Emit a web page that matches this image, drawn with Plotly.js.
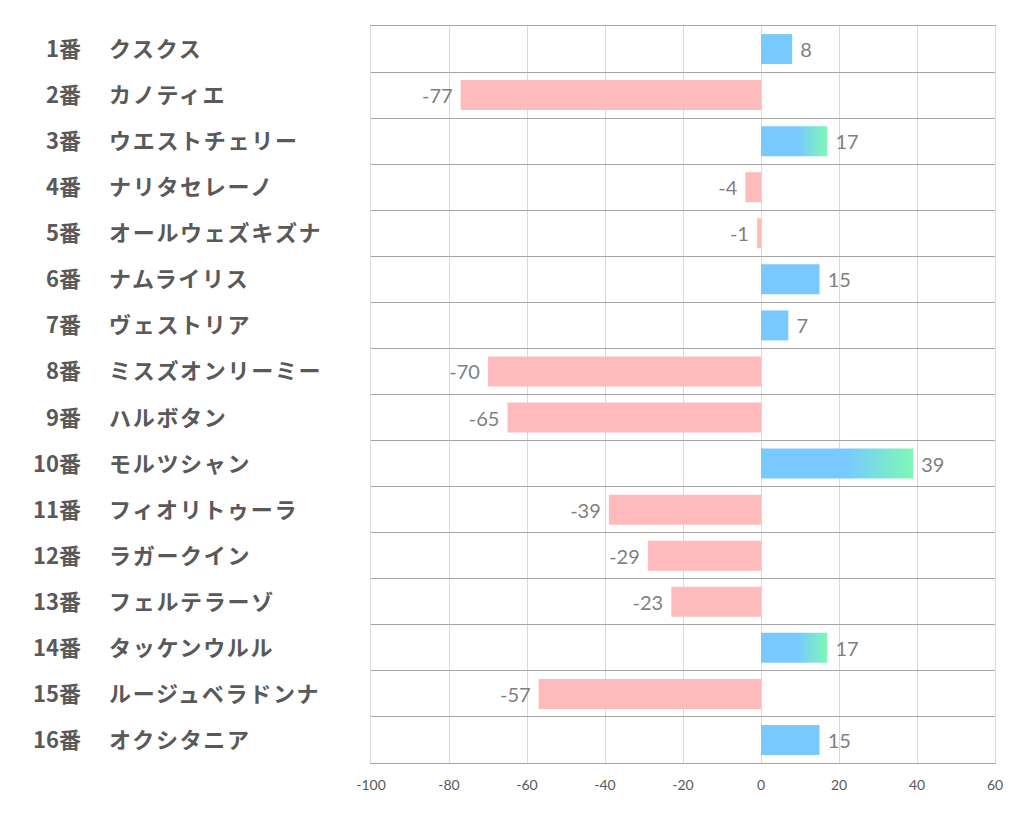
<!DOCTYPE html>
<html>
<head>
<meta charset="utf-8">
<script src="https://cdn.plot.ly/plotly-3.0.1.min.js"></script>
<style>
html,body{margin:0;padding:0;background:#fff;}
#chart{width:1022px;height:834px;}
</style>
</head>
<body>
<div id="chart"></div>
<script>
// ---- data ----
const numbers = ["1番","2番","3番","4番","5番","6番","7番","8番","9番","10番","11番","12番","13番","14番","15番","16番"];
const names = ["クスクス","カノティエ","ウエストチェリー","ナリタセレーノ","オールウェズキズナ","ナムライリス","ヴェストリア","ミスズオンリーミー","ハルボタン","モルツシャン","フィオリトゥーラ","ラガークイン","フェルテラーゾ","タッケンウルル","ルージュベラドンナ","オクシタニア"];
const values = [8,-77,17,-4,-1,15,7,-70,-65,39,-39,-29,-23,17,-57,15];
const highlighted = [false,false,true,false,false,false,false,false,false,true,false,false,false,true,false,false];
const xTicks = [-100,-80,-60,-40,-20,0,20,40,60];

// ---- styles ----
const POS = "#77C9FF", NEG = "#FFBABB", GREEN = "#7EF8B6";
const rows = numbers.map((_, i) => i + 1);
const colors = values.map(v => v >= 0 ? POS : NEG);
const NB = "\u00a0";

const trace = {
  type: "bar",
  orientation: "h",
  x: values,
  y: rows,
  width: 0.65,
  marker: {color: colors, line: {width: 0}},
  text: values.map(v => v >= 0 ? NB + v : v + NB),
  textposition: "outside",
  cliponaxis: false,
  constraintext: "none",
  textfont: {family: "Lato, 'Open Sans', sans-serif", size: 20, color: "#7F7F7F"},
  hoverinfo: "none"
};

const numFont = {family: "'Noto Sans CJK JP', sans-serif", size: 22, color: "#595959", weight: 700};
const nameFont = {family: "'Noto Sans CJK JP', sans-serif", size: 22, color: "#595959", weight: 700};
const annotations = [];
rows.forEach((r, i) => {
  annotations.push({xref: "paper", yref: "y", x: (83 - 371) / 624, y: r, yshift: 2, text: numbers[i],
    showarrow: false, xanchor: "right", yanchor: "middle", font: numFont});
  annotations.push({xref: "paper", yref: "y", x: (107 - 371) / 624, y: r, yshift: 2,
    text: '<span style="letter-spacing:1.7px">' + names[i] + '</span>',
    showarrow: false, xanchor: "left", yanchor: "middle", font: nameFont});
});

const layout = {
  width: 1022, height: 834,
  margin: {l: 371, r: 27, t: 26, b: 71},
  paper_bgcolor: "#fff", plot_bgcolor: "#fff",
  showlegend: false,
  bargap: 0.35,
  xaxis: {
    range: [-100, 60], tickvals: xTicks, ticktext: xTicks.map(String),
    showgrid: true, gridcolor: "#D9D9D9", gridwidth: 1, zeroline: false,
    showline: true, mirror: true, linecolor: "#A6A6A6", linewidth: 1,
    ticks: "", ticklabelstandoff: 9,
    tickfont: {family: "Lato, 'Open Sans', sans-serif", size: 14, color: "#595959"},
    fixedrange: true
  },
  yaxis: {
    range: [16.5, 0.5], tickmode: "linear", tick0: 0.5, dtick: 1,
    showticklabels: false, ticks: "",
    showgrid: true, gridcolor: "#A6A6A6", gridwidth: 1, zeroline: false,
    showline: true, mirror: true, linecolor: "#D9D9D9", linewidth: 1,
    fixedrange: true
  },
  annotations: annotations
};

function applyGradient(gd) {
  const svg = gd.querySelector(".main-svg");
  let defs = svg.querySelector("defs");
  if (!defs) { defs = document.createElementNS("http://www.w3.org/2000/svg", "defs"); svg.insertBefore(defs, svg.firstChild); }
  if (!svg.querySelector("#barGrad")) {
    const ns = "http://www.w3.org/2000/svg";
    const g = document.createElementNS(ns, "linearGradient");
    g.setAttribute("id", "barGrad");
    g.setAttribute("x1", "0"); g.setAttribute("y1", "0"); g.setAttribute("x2", "1"); g.setAttribute("y2", "0");
    [[0, POS], [0.55, POS], [1, GREEN]].forEach(([o, c]) => {
      const s = document.createElementNS(ns, "stop");
      s.setAttribute("offset", o); s.setAttribute("stop-color", c);
      g.appendChild(s);
    });
    defs.appendChild(g);
  }
  const paths = gd.querySelectorAll(".barlayer .point path");
  paths.forEach((p, i) => { if (highlighted[i]) p.style.fill = "url(#barGrad)"; });
}

Plotly.newPlot("chart", [trace], layout, {displayModeBar: false, staticPlot: true}).then(applyGradient);
</script>
</body>
</html>
